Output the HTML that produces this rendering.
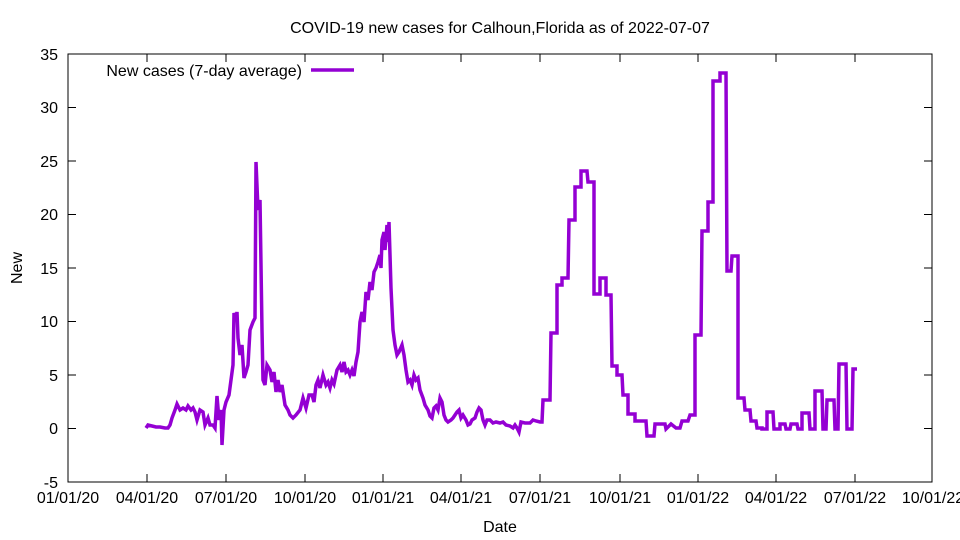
<!DOCTYPE html>
<html><head><style>body{margin:0;background:#fff}svg{display:block}text{font-family:"Liberation Sans",sans-serif;font-size:16px;fill:#000}</style></head><body>
<svg width="960" height="540" viewBox="0 0 960 540">
<rect x="68" y="54" width="864" height="428" fill="none" stroke="#000" stroke-width="1"/>
<g stroke="#000" stroke-width="1">
<path d="M68 482h8M932 482h-8M68 428.5h8M932 428.5h-8M68 375h8M932 375h-8M68 321.5h8M932 321.5h-8M68 268h8M932 268h-8M68 214.5h8M932 214.5h-8M68 161h8M932 161h-8M68 107.5h8M932 107.5h-8M68 54h8M932 54h-8"/>
<path d="M68 482v-8M68 54v8M147 482v-8M147 54v8M226 482v-8M226 54v8M305 482v-8M305 54v8M383 482v-8M383 54v8M461 482v-8M461 54v8M540 482v-8M540 54v8M620 482v-8M620 54v8M698 482v-8M698 54v8M776 482v-8M776 54v8M855 482v-8M855 54v8M932 482v-8M932 54v8"/>
</g>
<g text-anchor="end">
<text x="58" y="488">-5</text><text x="58" y="434">0</text><text x="58" y="381">5</text><text x="58" y="327">10</text><text x="58" y="274">15</text><text x="58" y="220">20</text><text x="58" y="167">25</text><text x="58" y="113">30</text><text x="58" y="60">35</text>
</g>
<g text-anchor="middle">
<text x="68" y="503">01/01/20</text><text x="147" y="503">04/01/20</text><text x="226" y="503">07/01/20</text><text x="305" y="503">10/01/20</text><text x="383" y="503">01/01/21</text><text x="461" y="503">04/01/21</text><text x="540" y="503">07/01/21</text><text x="620" y="503">10/01/21</text><text x="698" y="503">01/01/22</text><text x="776" y="503">04/01/22</text><text x="855" y="503">07/01/22</text><text x="933" y="503">10/01/22</text>
<text x="500" y="532">Date</text>
<text x="500" y="33">COVID-19 new cases for Calhoun,Florida as of 2022-07-07</text>
<text transform="translate(22,268) rotate(-90)">New</text>
</g>
<text x="302" y="76" text-anchor="end">New cases (7-day average)</text>
<path d="M311 70h43" stroke="#9400d3" stroke-width="3.5"/>
<polyline fill="none" stroke="#9400d3" stroke-width="3.5" stroke-linejoin="miter" points="146,428 148,425 152,426 156,427 160,427 165,428 168,428 170,425 172,418 175,410 177,404 180,410 183,408 186,410 188,406 191,410 193,408 195,412 197,420 200,410 203,412 205,425 208,418 210,425 213,425 215,428 217,396 219,420 221,410 222,445 224,410 226,402 229,395 231,380 233,365 234,313 236,320 237,312 238,338 240,355 242,345 244,378 246,372 248,365 250,330 253,322 255,318 256,162 258,210 260,200 262,330 263,380 265,385 267,365 270,370 272,382 274,372 276,392 278,380 280,392 282,385 285,405 288,410 290,415 293,418 296,415 300,410 303,398 306,408 309,395 312,395 314,402 316,385 318,380 320,388 323,375 326,385 328,382 330,388 332,380 334,384 337,370 340,365 342,372 344,362 346,372 348,370 350,375 352,370 354,376 356,362 358,352 360,322 362,312 364,322 366,292 368,300 370,282 372,290 374,272 376,268 378,262 380,255 381,268 382,240 384,232 385,250 387,225 388,242 389,222 391,288 393,330 395,345 397,355 399,352 402,345 404,355 406,370 408,382 410,380 412,385 414,375 416,380 418,378 420,390 423,398 425,405 428,410 430,416 432,418 434,408 436,406 438,410 440,398 442,402 444,415 446,420 448,422 451,420 453,418 455,415 457,412 459,410 461,418 463,415 466,420 468,425 470,424 472,420 475,418 477,412 479,408 481,410 483,420 485,425 487,420 490,420 493,423 496,422 500,423 503,422 506,425 510,426 513,428 515,425 517,428 519,432 521,422 525,423 530,423 533,420 536,421 540,422 542,422 543,400 550,400 551,333 557,333 557,285 562,285 562,278 568,278 569,220 575,220 575,187 581,187 581,171 587,171 588,182 594,182 594,294 600,294 600,278 606,278 606,295 611,295 612,366 617,366 617,375 622,375 623,395 628,395 628,414 635,414 635,421 646,421 647,436 654,436 655,424 665,424 666,429 671,424 676,428 680,428 682,421 688,421 690,415 695,415 695,335 701,335 702,231 708,231 708,202 713,202 713,81 720,81 720,73 726,73 727,271 731,271 732,256 738,256 738,398 744,398 745,410 750,410 751,421 756,421 757,428 762,428 762,429 767,429 767,412 773,412 774,429 780,429 780,424 785,424 786,429 790,429 791,424 797,424 798,429 802,429 802,413 809,413 810,429 815,429 815,391 822,391 823,429 826,429 827,400 834,400 835,429 838,429 839,364 846,364 847,429 852,429 853,369 857,369"/>
</svg>
</body></html>
